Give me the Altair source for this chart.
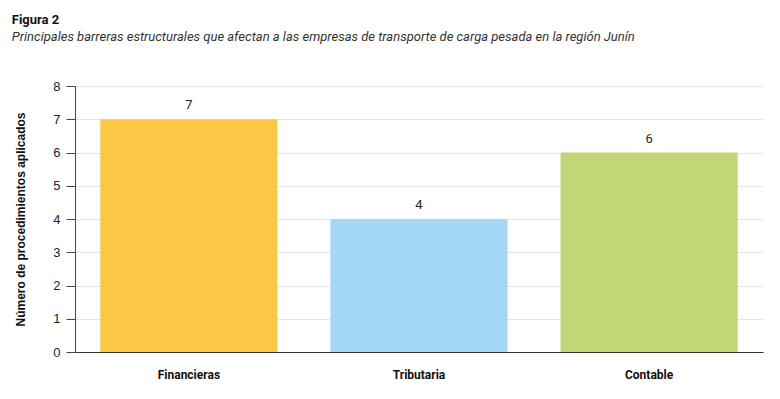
import altair as alt
import pandas as pd

categorias = ["Financieras", "Tributaria", "Contable"]
valores = [7, 4, 6]
colores = ["#FDC746", "#A3D9F7", "#C2D677"]

df = pd.DataFrame({"categoria": categorias, "valor": valores, "color": colores})

base = alt.Chart(df).encode(
    x=alt.X("categoria:N", sort=categorias,
            scale=alt.Scale(paddingInner=0.23, paddingOuter=0.11),
            axis=alt.Axis(title=None, labelAngle=0, ticks=False, labelPadding=17,
                          labelFont="Roboto", labelFontWeight="bold", labelFontSize=12,
                          labelColor="#111", domainColor="#333", domainWidth=1.2,
                          grid=False)),
    y=alt.Y("valor:Q", scale=alt.Scale(domain=[0, 8]),
            axis=alt.Axis(title="Número de procedimientos aplicados",
                          values=list(range(0, 9)), labelOverlap=False,
                          titleFont="Liberation Sans", titleFontWeight="bold", titleFontSize=12,
                          titleColor="#111", titlePadding=25,
                          labelFont="Liberation Sans", labelFontSize=13, labelColor="#222",
                          labelPadding=6, tickSize=9, tickColor="#444", domainColor="#444",
                          gridColor="#e6e6e6", gridWidth=1.2)),
)

bars = base.mark_bar().encode(
    color=alt.Color("color:N", scale=None),
)

labels = base.mark_text(baseline="middle", dy=-14, font="Roboto", fontSize=13, color="#222").encode(
    text=alt.Text("valor:Q"),
)

chart = (bars + labels).properties(
    width=688,
    height=266,
    padding={"left": 3, "top": 6, "right": 5, "bottom": 5},
    title=alt.TitleParams(
        text="Figura 2",
        subtitle="Principales barreras estructurales que afectan a las empresas de transporte de carga pesada en la región Junín",
        anchor="start", frame="bounds", font="Roboto", fontSize=13, fontWeight="bold",
        color="#111", subtitleFont="Roboto", subtitleFontSize=13, subtitleFontStyle="italic",
        subtitleColor="#333", subtitlePadding=4, offset=36, dx=-3,
    ),
).configure_view(stroke=None)

chart.save("out.html", embed_options={"renderer": "svg", "actions": False})
